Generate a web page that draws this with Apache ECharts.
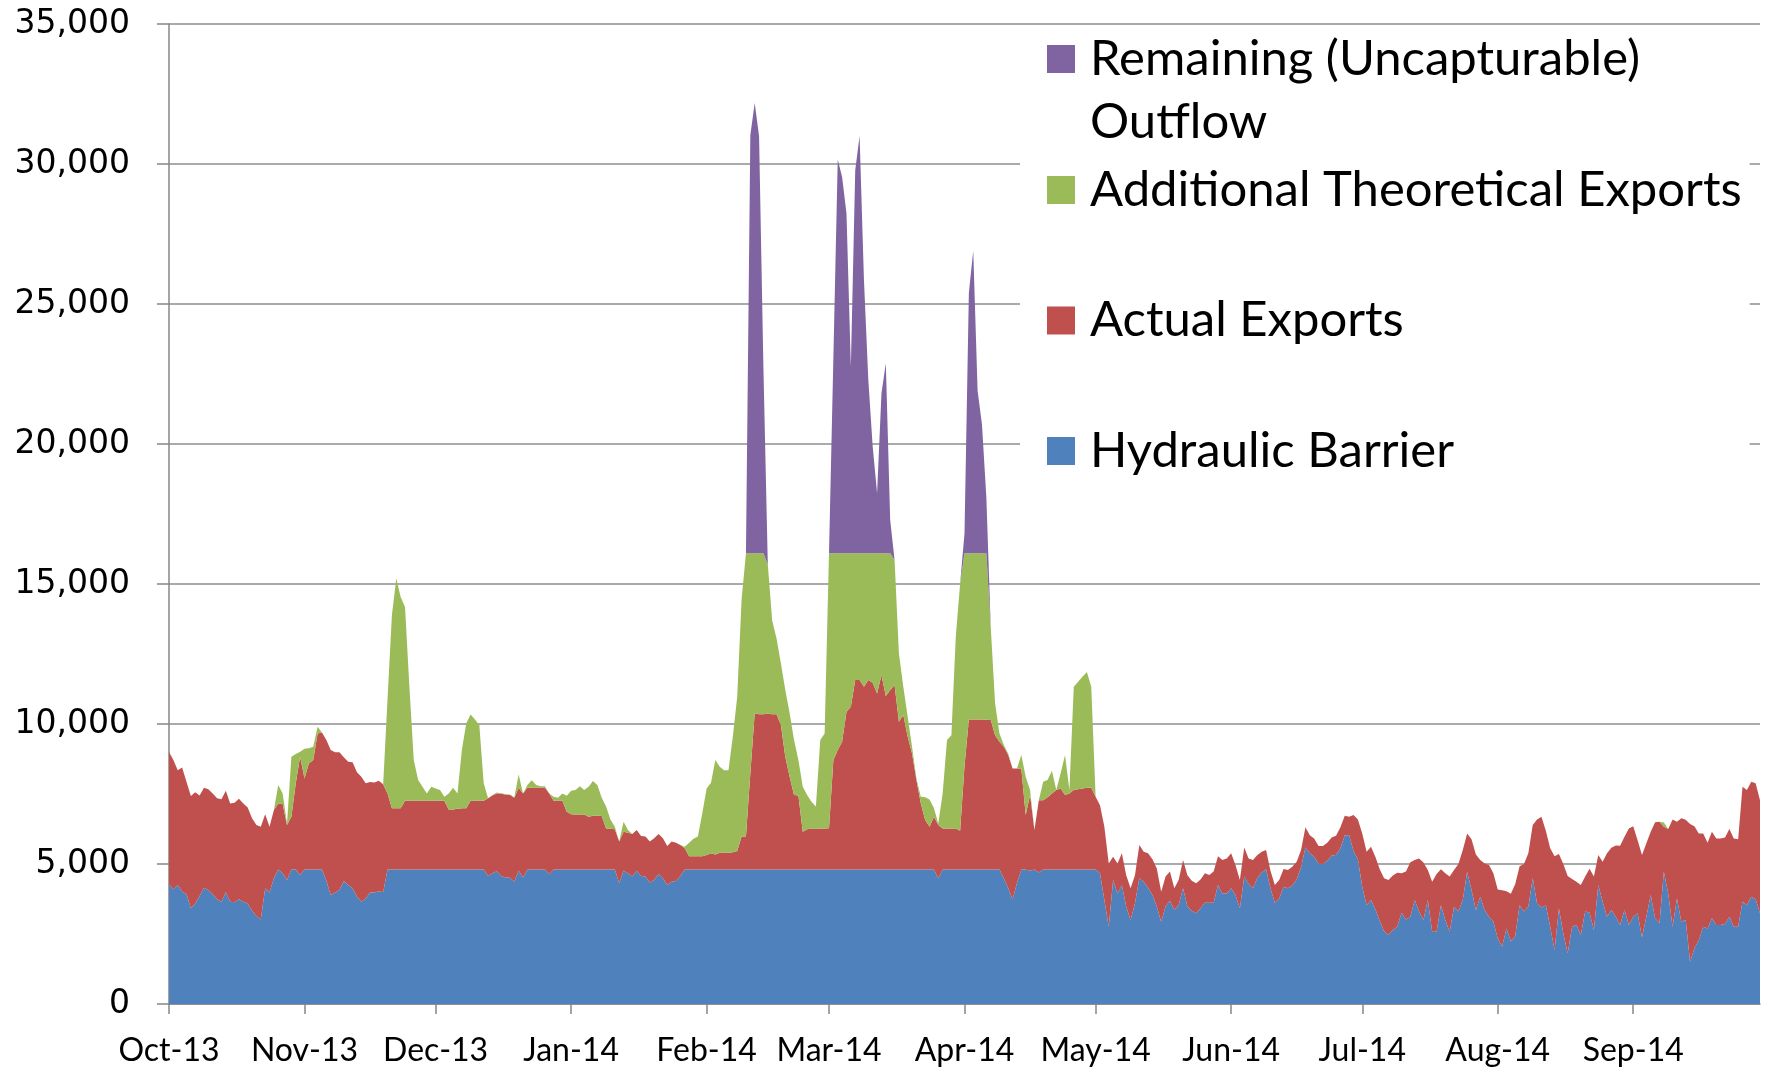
<!DOCTYPE html>
<html>
<head>
<meta charset="utf-8">
<title>Daily flows Oct-13 to Sep-14</title>
<script src="https://cdn.jsdelivr.net/npm/echarts@6/dist/echarts.min.js"></script>
<style>
  html, body { margin: 0; padding: 0; background: #fff; }
  #chart { width: 1769px; height: 1073px; }
</style>
</head>
<body>
<div id="chart"></div>
<script>
// one value per day, 1 Oct 2013 .. 30 Sep 2014 (10 days per line)
var monthNames = ['Jan', 'Feb', 'Mar', 'Apr', 'May', 'Jun', 'Jul', 'Aug', 'Sep', 'Oct', 'Nov', 'Dec'];

var hydraulicBarrier = [
  4280, 4100, 4250, 4010, 3930, 3420, 3590, 3860, 4150, 4070,
  3920, 3740, 3650, 3990, 3650, 3630, 3740, 3650, 3590, 3330,
  3140, 3020, 4130, 3980, 4490, 4800, 4670, 4430, 4800, 4800,
  4610, 4800, 4800, 4800, 4800, 4800, 4400, 3890, 3980, 4070,
  4390, 4250, 4130, 3830, 3650, 3770, 3980, 3980, 4030, 3990,
  4800, 4800, 4800, 4800, 4800, 4800, 4800, 4800, 4800, 4800,
  4800, 4800, 4800, 4800, 4800, 4800, 4800, 4800, 4800, 4800,
  4800, 4800, 4800, 4570, 4670, 4740, 4570, 4520, 4510, 4370,
  4760, 4520, 4800, 4800, 4800, 4800, 4800, 4630, 4800, 4800,
  4800, 4800, 4800, 4800, 4800, 4800, 4800, 4800, 4800, 4800,
  4800, 4800, 4800, 4310, 4760, 4670, 4550, 4760, 4570, 4550,
  4340, 4430, 4640, 4490, 4250, 4370, 4390, 4570, 4800, 4800,
  4800, 4800, 4800, 4800, 4800, 4800, 4800, 4800, 4800, 4800,
  4800, 4800, 4800, 4800, 4800, 4800, 4800, 4800, 4800, 4800,
  4800, 4800, 4800, 4800, 4800, 4800, 4800, 4800, 4800, 4800,
  4800, 4800, 4800, 4800, 4800, 4800, 4800, 4800, 4800, 4800,
  4800, 4800, 4800, 4800, 4800, 4800, 4800, 4800, 4800, 4800,
  4800, 4800, 4800, 4800, 4800, 4800, 4490, 4800, 4800, 4800,
  4800, 4800, 4800, 4800, 4800, 4800, 4800, 4800, 4800, 4800,
  4800, 4490, 4130, 3740, 4310, 4800, 4800, 4760, 4800, 4700,
  4800, 4800, 4800, 4800, 4800, 4800, 4800, 4800, 4800, 4800,
  4800, 4800, 4800, 4670, 3710, 2760, 4430, 3950, 4250, 3480,
  3000, 3590, 4490, 4370, 4150, 3890, 3480, 2940, 3480, 3690,
  3360, 3530, 4130, 3480, 3330, 3240, 3420, 3620, 3620, 3620,
  4250, 3950, 3950, 4130, 3890, 3420, 4550, 4290, 4130, 4500,
  4700, 4810, 4130, 3620, 3770, 4190, 4130, 4230, 4450, 4880,
  5590, 5380, 5260, 5020, 5000, 5120, 5300, 5320, 5560, 6030,
  6030, 5470, 5170, 4190, 3530, 3710, 3380, 2960, 2600, 2460,
  2640, 2760, 3260, 3020, 3120, 3710, 3300, 3000, 3710, 2580,
  2580, 3530, 3000, 2580, 3470, 3300, 3710, 4720, 4070, 3360,
  3830, 3360, 3120, 2940, 2340, 2050, 2700, 2230, 2430, 3530,
  3300, 3470, 4490, 3590, 3450, 3530, 2760, 1930, 3410, 2520,
  1810, 2760, 2820, 2460, 3300, 3260, 2640, 4250, 3650, 3120,
  3360, 3120, 2820, 3360, 2820, 3120, 3240, 2380, 3120, 3890,
  3060, 2880, 4720, 3950, 2760, 3770, 2940, 3000, 1510, 1990,
  2280, 2760, 2700, 3060, 2820, 2820, 2860, 3120, 2760, 2760,
  3650, 3530, 3830, 3740, 3240
];

var actualExports = [
  4720, 4610, 4100, 4440, 4010, 4010, 3970, 3590, 3570, 3600,
  3600, 3610, 3660, 3630, 3510, 3560, 3590, 3510, 3430, 3300,
  3250, 3310, 2650, 2350, 2440, 2360, 2470, 1960, 1890, 3080,
  4220, 3250, 3790, 3910, 4860, 4900, 5030, 5180, 5010, 4920,
  4420, 4400, 4500, 4450, 4470, 4110, 3950, 3930, 3940, 3860,
  2720, 2190, 2190, 2190, 2460, 2460, 2460, 2460, 2460, 2460,
  2460, 2460, 2460, 2460, 2150, 2150, 2170, 2190, 2190, 2460,
  2460, 2460, 2460, 2780, 2780, 2780, 2950, 2950, 2960, 3000,
  2960, 3000, 2920, 2920, 2920, 2920, 2920, 2890, 2460, 2460,
  2460, 2070, 1980, 1970, 1970, 1970, 1890, 1920, 1920, 1910,
  1470, 1460, 1440, 1490, 1390, 1450, 1520, 1450, 1430, 1430,
  1460, 1490, 1430, 1430, 1390, 1430, 1370, 1110, 760, 480,
  480, 480, 480, 520, 580, 540, 600, 600, 600, 620,
  660, 1180, 1180, 3430, 5580, 5550, 5550, 5570, 5550, 5550,
  5160, 4030, 3320, 2660, 2650, 1350, 1440, 1470, 1470, 1470,
  1470, 1480, 3910, 4270, 4570, 5640, 5820, 6770, 6770, 6530,
  6770, 6670, 6290, 6950, 6200, 6410, 6590, 5280, 5520, 4750,
  4150, 3200, 2370, 1770, 1530, 1890, 1900, 1470, 1470, 1470,
  1470, 1390, 3700, 5360, 5360, 5360, 5360, 5350, 5340, 4800,
  4570, 4700, 4760, 4670, 4100, 3610, 1950, 2700, 1410, 2580,
  2480, 2580, 2720, 2840, 2900, 2660, 2720, 2840, 2870, 2900,
  2920, 2920, 2600, 2430, 2620, 2260, 830, 1070, 1130, 1120,
  1130, 1010, 1190, 1070, 1230, 1280, 1360, 1070, 1070, 1040,
  770, 900, 1010, 1120, 1070, 1070, 1030, 1050, 990, 1110,
  1030, 1190, 1250, 1250, 1070, 1010, 1040, 910, 1010, 820,
  740, 690, 630, 630, 660, 630, 660, 670, 630, 620,
  720, 650, 650, 620, 640, 640, 650, 690, 750, 690,
  660, 1280, 1420, 1900, 1910, 1910, 1880, 1850, 1890, 1970,
  1950, 1930, 1410, 1710, 1940, 1430, 1900, 2050, 1080, 1790,
  2060, 1280, 1670, 1970, 1320, 1700, 1790, 1370, 1810, 1980,
  1310, 1660, 1840, 1730, 1750, 2010, 1330, 1710, 1860, 1390,
  1700, 1910, 1900, 3000, 3240, 2660, 2800, 3350, 1950, 2480,
  2760, 1700, 1550, 1790, 1250, 1570, 1910, 1070, 1430, 2260,
  2220, 2540, 2830, 2610, 3450, 3230, 2610, 2940, 2620, 2260,
  3430, 3630, 1610, 2300, 3830, 2740, 3690, 3580, 4920, 4360,
  3810, 3330, 3060, 3090, 3090, 3090, 3090, 3130, 3150, 3120,
  4110, 4110, 4110, 4140, 4040
];

var additionalExports = [
  0, 0, 0, 0, 0, 0, 0, 0, 0, 0,
  0, 0, 0, 0, 0, 0, 0, 0, 0, 0,
  0, 0, 0, 0, 0, 660, 380, 60, 2140, 1050,
  180, 1070, 540, 480, 240, 0, 0, 0, 0, 0,
  0, 0, 0, 0, 0, 0, 0, 0, 0, 0,
  3380, 6900, 8210, 7550, 6920, 4070, 1450, 740, 500, 260,
  500, 440, 380, 140, 570, 770, 550, 2080, 3030, 3080,
  2900, 2700, 620, 0, 10, 30, 0, 30, 0, 10,
  480, 0, 100, 270, 100, 60, 60, 0, 140, 110,
  260, 570, 840, 870, 1010, 870, 1070, 1240, 1100, 660,
  780, 330, 90, 0, 360, 90, 0, 0, 0, 0,
  0, 0, 0, 0, 0, 0, 0, 0, 60, 480,
  620, 700, 1520, 2380, 2520, 3370, 3070, 2950, 2950, 4130,
  5510, 8470, 10120, 7870, 5720, 5750, 5750, 5330, 3350, 2700,
  2200, 2380, 2260, 1970, 1260, 1610, 1220, 950, 780, 3160,
  3390, 9820, 7390, 7030, 6730, 5660, 5480, 4530, 4530, 4770,
  4530, 4630, 5010, 4350, 5100, 4890, 4470, 2440, 1010, 710,
  240, 50, 230, 810, 970, 310, 60, 1250, 3160, 3330,
  6840, 8830, 7600, 5940, 5940, 5940, 5940, 5950, 3330, 1130,
  290, 60, 60, 0, 0, 480, 1370, 180, 0, 0,
  660, 620, 810, 0, 540, 1430, 120, 3690, 3840, 3990,
  4140, 3610, 0, 0, 0, 0, 0, 0, 0, 0,
  0, 0, 0, 0, 0, 0, 0, 0, 0, 0,
  0, 0, 0, 0, 0, 0, 0, 0, 0, 0,
  0, 0, 0, 0, 0, 0, 0, 0, 0, 0,
  0, 0, 0, 0, 0, 0, 0, 0, 0, 0,
  0, 0, 0, 0, 0, 0, 0, 0, 0, 0,
  0, 0, 0, 0, 0, 0, 0, 0, 0, 0,
  0, 0, 0, 0, 0, 0, 0, 0, 0, 0,
  0, 0, 0, 0, 0, 0, 0, 0, 0, 0,
  0, 0, 0, 0, 0, 0, 0, 0, 0, 0,
  0, 0, 0, 0, 0, 0, 0, 0, 0, 0,
  0, 0, 0, 0, 0, 0, 0, 0, 0, 0,
  0, 0, 0, 0, 0, 0, 0, 0, 0, 0,
  0, 0, 150, 0, 0, 0, 0, 0, 0, 0,
  0, 0, 0, 0, 0, 0, 0, 0, 0, 0,
  0, 0, 0, 0, 0
];

var remainingOutflow = [
  0, 0, 0, 0, 0, 0, 0, 0, 0, 0,
  0, 0, 0, 0, 0, 0, 0, 0, 0, 0,
  0, 0, 0, 0, 0, 0, 0, 0, 0, 0,
  0, 0, 0, 0, 0, 0, 0, 0, 0, 0,
  0, 0, 0, 0, 0, 0, 0, 0, 0, 0,
  0, 0, 0, 0, 0, 0, 0, 0, 0, 0,
  0, 0, 0, 0, 0, 0, 0, 0, 0, 0,
  0, 0, 0, 0, 0, 0, 0, 0, 0, 0,
  0, 0, 0, 0, 0, 0, 0, 0, 0, 0,
  0, 0, 0, 0, 0, 0, 0, 0, 0, 0,
  0, 0, 0, 0, 0, 0, 0, 0, 0, 0,
  0, 0, 0, 0, 0, 0, 0, 0, 0, 0,
  0, 0, 0, 0, 0, 0, 0, 0, 0, 0,
  0, 0, 0, 14930, 16080, 14900, 6600, 0, 0, 0,
  0, 0, 0, 0, 0, 0, 0, 0, 0, 0,
  0, 0, 6980, 14060, 13440, 12130, 6660, 13680, 14900, 9750,
  6180, 3800, 2140, 5700, 6780, 1190, 0, 0, 0, 0,
  0, 0, 0, 0, 0, 0, 0, 0, 0, 0,
  0, 0, 700, 9300, 10800, 5800, 4600, 2000, 0, 0,
  0, 0, 0, 0, 0, 0, 0, 0, 0, 0,
  0, 0, 0, 0, 0, 0, 0, 0, 0, 0,
  0, 0, 0, 0, 0, 0, 0, 0, 0, 0,
  0, 0, 0, 0, 0, 0, 0, 0, 0, 0,
  0, 0, 0, 0, 0, 0, 0, 0, 0, 0,
  0, 0, 0, 0, 0, 0, 0, 0, 0, 0,
  0, 0, 0, 0, 0, 0, 0, 0, 0, 0,
  0, 0, 0, 0, 0, 0, 0, 0, 0, 0,
  0, 0, 0, 0, 0, 0, 0, 0, 0, 0,
  0, 0, 0, 0, 0, 0, 0, 0, 0, 0,
  0, 0, 0, 0, 0, 0, 0, 0, 0, 0,
  0, 0, 0, 0, 0, 0, 0, 0, 0, 0,
  0, 0, 0, 0, 0, 0, 0, 0, 0, 0,
  0, 0, 0, 0, 0, 0, 0, 0, 0, 0,
  0, 0, 0, 0, 0, 0, 0, 0, 0, 0,
  0, 0, 0, 0, 0, 0, 0, 0, 0, 0,
  0, 0, 0, 0, 0, 0, 0, 0, 0, 0,
  0, 0, 0, 0, 0
];

// daily categories
var days = [];
var start = Date.UTC(2013, 9, 1);
for (var i = 0; i < hydraulicBarrier.length; i++) {
  days.push(new Date(start + i * 86400000).toISOString().slice(0, 10));
}

function isMonthStart(index, value) {
  return value.slice(8) === '01';
}

function monthLabel(value) {
  return monthNames[+value.slice(5, 7) - 1] + '-' + value.slice(2, 4);
}

function areaSeries(name, data, color) {
  return {
    name: name,
    type: 'line',
    stack: 'flow',
    data: data,
    symbol: 'none',
    showSymbol: false,
    lineStyle: { width: 0 },
    itemStyle: { color: color },
    areaStyle: { color: color, opacity: 1 },
    emphasis: { disabled: true }
  };
}

var axisGray = '#868686';
var legendText = { fontFamily: 'Lato', fontSize: 49, lineHeight: 63, color: '#000', padding: [0, 0, 0, 10] };

var option = {
  animation: false,
  backgroundColor: '#fff',
  grid: { left: 169, right: 9, top: 24, bottom: 69, outerBoundsMode: 'none' },
  legend: [
    {
      data: ['Additional Theoretical Exports', 'Actual Exports', 'Hydraulic Barrier'],
      orient: 'vertical',
      left: 1020,
      top: 30,
      padding: [128.5, 8, 17.5, 27],
      itemGap: 67.5,
      itemWidth: 28,
      itemHeight: 28,
      icon: 'rect',
      backgroundColor: '#fff',
      selectedMode: false,
      textStyle: legendText
    },
    {
      // two-line entry: the empty first line keeps the icon beside "Remaining"
      data: ['Remaining (Uncapturable) Outflow'],
      formatter: function () { return '\nRemaining (Uncapturable)\nOutflow'; },
      orient: 'vertical',
      left: 1047,
      top: -35.5,
      padding: 0,
      z: 5,
      itemWidth: 28,
      itemHeight: 28,
      icon: 'rect',
      selectedMode: false,
      textStyle: legendText
    }
  ],
  xAxis: {
    type: 'category',
    data: days,
    boundaryGap: false,
    axisLine: { lineStyle: { color: axisGray, width: 1.5 } },
    axisTick: { interval: isMonthStart, length: 10, lineStyle: { color: axisGray, width: 1.5 } },
    axisLabel: {
      interval: isMonthStart,
      formatter: monthLabel,
      margin: 31,
      fontFamily: 'Lato',
      fontSize: 32,
      color: '#000'
    },
    splitLine: { show: false }
  },
  yAxis: {
    type: 'value',
    min: 0,
    max: 35000,
    interval: 5000,
    axisLine: { show: true, lineStyle: { color: axisGray, width: 1.5 } },
    axisTick: { show: true, length: 12, lineStyle: { color: axisGray, width: 1.5 } },
    axisLabel: {
      margin: 39,
      fontFamily: 'DejaVu Sans',
      fontSize: 33,
      color: '#000',
      formatter: function (v) { return v.toLocaleString('en-US'); }
    },
    splitLine: { lineStyle: { color: '#8e8e8e', width: 1.5 } }
  },
  series: [
    areaSeries('Hydraulic Barrier', hydraulicBarrier, '#4F81BD'),
    areaSeries('Actual Exports', actualExports, '#C0504D'),
    areaSeries('Additional Theoretical Exports', additionalExports, '#9BBB59'),
    areaSeries('Remaining (Uncapturable) Outflow', remainingOutflow, '#8064A2')
  ]
};

var myChart = echarts.init(document.getElementById('chart'));
myChart.setOption(option);
</script>
</body>
</html>
